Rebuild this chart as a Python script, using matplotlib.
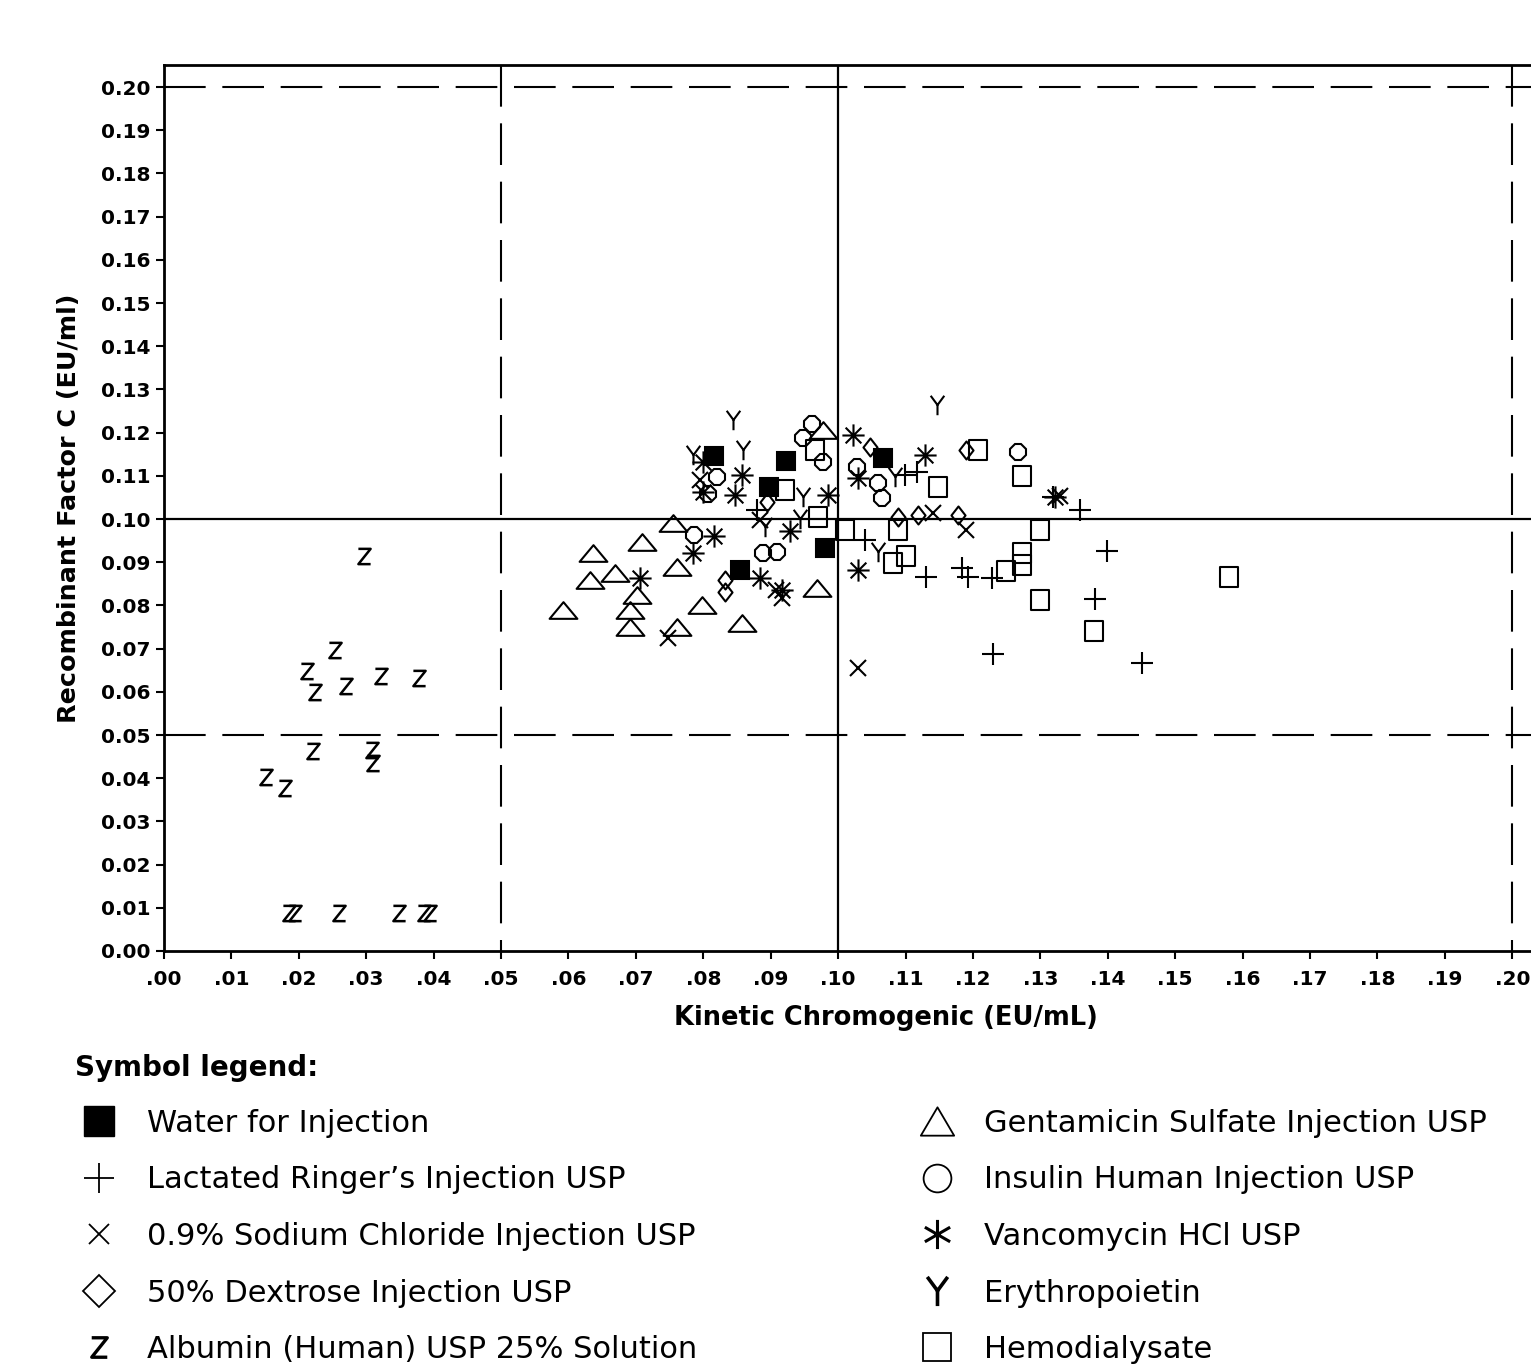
import numpy as np
import matplotlib
matplotlib.use("Agg")
import matplotlib.pyplot as plt
from matplotlib.path import Path
from matplotlib.lines import Line2D
from matplotlib.font_manager import FontProperties

# ---------------- data (EU/mL) ----------------
water_x = [0.0816, 0.0923, 0.0897, 0.0855, 0.0981, 0.1067]
water_y = [0.1146, 0.1134, 0.1074, 0.0882, 0.0933, 0.1141]

ringer_x = [0.1131, 0.1184, 0.1193, 0.1228, 0.1230, 0.1359, 0.1399, 0.1381, 0.1451,
            0.1099, 0.1117, 0.0880, 0.1318, 0.1040]
ringer_y = [0.0866, 0.0887, 0.0866, 0.0863, 0.0688, 0.1021, 0.0926, 0.0815, 0.0667,
            0.1102, 0.1109, 0.1021, 0.1051, 0.0951]

nacl_x = [0.1030, 0.0748, 0.1190, 0.0908, 0.0917, 0.0795, 0.0884, 0.1329, 0.1141]
nacl_y = [0.0655, 0.0725, 0.0975, 0.0836, 0.0817, 0.1090, 0.0998, 0.1053, 0.1014]

dextrose_x = [0.1089, 0.1119, 0.1178, 0.1189, 0.0832, 0.0832, 0.1047, 0.0895]
dextrose_y = [0.1005, 0.1009, 0.1009, 0.1160, 0.0859, 0.0831, 0.1167, 0.1039]

albumin_x = [0.0297, 0.0254, 0.0212, 0.0224, 0.0270, 0.0322, 0.0378, 0.0221, 0.0309,
             0.0310, 0.0151, 0.0180, 0.0185, 0.0194, 0.0260, 0.0349, 0.0386, 0.0395]
albumin_y = [0.0914, 0.0697, 0.0648, 0.0600, 0.0613, 0.0637, 0.0632, 0.0463, 0.0465,
             0.0435, 0.0403, 0.0377, 0.0088, 0.0088, 0.0088, 0.0088, 0.0088, 0.0088]

gentamicin_x = [0.0755, 0.0709, 0.0637, 0.0632, 0.0669, 0.0761, 0.0702, 0.0592, 0.0691,
                0.0691, 0.0798, 0.0858, 0.0761, 0.0969, 0.0978]
gentamicin_y = [0.0991, 0.0947, 0.0921, 0.0859, 0.0875, 0.0889, 0.0824, 0.0789, 0.0789,
                0.0750, 0.0801, 0.0759, 0.0750, 0.0840, 0.1206]

insulin_x = [0.1267, 0.0961, 0.0948, 0.0820, 0.0807, 0.0786, 0.0889, 0.0909, 0.1059,
             0.1065, 0.0978, 0.1028]
insulin_y = [0.1155, 0.1220, 0.1188, 0.1097, 0.1058, 0.0963, 0.0921, 0.0924, 0.1083,
             0.1049, 0.1132, 0.1120]

vanco_x = [0.1030, 0.1129, 0.1322, 0.0816, 0.0785, 0.0706, 0.0800, 0.0800, 0.0858,
           0.0847, 0.0929, 0.1022, 0.1030, 0.0985, 0.0884, 0.0917]
vanco_y = [0.0882, 0.1148, 0.1051, 0.0961, 0.0921, 0.0863, 0.1132, 0.1063, 0.1102,
           0.1056, 0.0972, 0.1194, 0.1095, 0.1056, 0.0863, 0.0836]

epo_x = [0.0844, 0.0859, 0.1147, 0.0892, 0.1059, 0.0948, 0.0785, 0.1085, 0.0944]
epo_y = [0.1229, 0.1160, 0.1264, 0.0981, 0.0924, 0.1051, 0.1148, 0.1097, 0.1000]

hemo_x = [0.1208, 0.1272, 0.1299, 0.1272, 0.1272, 0.1249, 0.1299, 0.1380, 0.1580,
          0.1089, 0.1082, 0.1101, 0.1148, 0.0966, 0.0970, 0.1010, 0.0921]
hemo_y = [0.1160, 0.1100, 0.0975, 0.0921, 0.0894, 0.0880, 0.0813, 0.0741, 0.0866,
          0.0975, 0.0898, 0.0914, 0.1074, 0.1160, 0.1005, 0.0975, 0.1067]

labels = ["Water for Injection", "Lactated Ringer\u2019s Injection USP",
          "0.9% Sodium Chloride Injection USP", "50% Dextrose Injection USP",
          "Albumin (Human) USP 25% Solution", "Gentamicin Sulfate Injection USP",
          "Insulin Human Injection USP", "Vancomycin HCl USP", "Erythropoietin",
          "Hemodialysate"]

y_ticks = [i / 100 for i in range(21)]
y_ticklabels = ["%.2f" % v for v in y_ticks]
x_ticks = [i / 100 for i in range(21)]
x_ticklabels = [(".%02d" % i) for i in range(21)]

# ---------------- marker shapes ----------------
M, L, C = Path.MOVETO, Path.LINETO, Path.CLOSEPOLY
tri = Path([(-1, -0.6), (1, -0.6), (0, 0.6), (-1, -0.6)], [M, L, L, C])
rect = Path([(-0.85, -1), (0.85, -1), (0.85, 1), (-0.85, 1), (-0.85, -1)], [M, L, L, L, C])
diam = Path([(-0.78, 0), (0, 1), (0.78, 0), (0, -1), (-0.78, 0)], [M, L, L, L, C])
ang = np.deg2rad([0, 45, 90, 135])
star8 = Path([p for a in ang for p in ((np.cos(a), np.sin(a)), (-np.cos(a), -np.sin(a)))],
             [M, L] * 4)
ang6 = np.deg2rad([90, 30, 150])
star6 = Path([p for a in ang6 for p in ((np.cos(a), np.sin(a)), (-np.cos(a), -np.sin(a)))],
             [M, L] * 3)
ypath = Path([(0, 0.05), (-0.7, 1), (0, 0.05), (0.7, 1), (0, 0.05), (0, -1)], [M, L, M, L, M, L])
zpath = Path([(-0.8, 1), (0.8, 1), (-0.8, -1), (0.8, -1)], [M, L, L, L])

# ---------------- figure ----------------
W, H = 1531, 1371
fig = plt.figure(figsize=(W / 100, H / 100), dpi=100)
# the plot frame continues past the right edge of the picture (cropped figure)
ax = fig.add_axes([164 / W, 1 - 951 / H, (1608 - 164) / W, (951 - 65) / H])

x0, x1 = 0.0, 0.2142
ax.set_xlim(x0, x1)
ax.set_ylim(0.0, 0.2051)

dash = dict(color="black", lw=1.5, dashes=(20, 8))
ax.plot([x0, x1], [0.20, 0.20], **dash, zorder=1)
ax.plot([x0, x1], [0.05, 0.05], **dash, zorder=1)
ax.plot([0.05, 0.05], [0.2051, 0.0], **dash, zorder=1)
ax.plot([0.20, 0.20], [0.2051, 0.0], **dash, zorder=1)
ax.axhline(0.10, color="black", lw=1.6, zorder=1)
ax.axvline(0.10, color="black", lw=1.6, zorder=1)

mew = 1.5
common = dict(linestyle="none", mec="black", mew=mew, zorder=3)
ax.plot(water_x, water_y, marker="s", ms=13, mfc="black", **common)
ax.plot(ringer_x, ringer_y, marker="+", ms=16, mfc="none", **common)
ax.plot(nacl_x, nacl_y, marker="x", ms=12, mfc="none", **common)
ax.plot(dextrose_x, dextrose_y, marker=diam, ms=13, mfc="none", **common)
ax.plot(albumin_x, albumin_y, marker=zpath, ms=11, mfc="none", linestyle="none",
        mec="black", mew=1.8, zorder=3)
ax.plot(gentamicin_x, gentamicin_y, marker=tri, ms=20, mfc="none", **common)
ax.plot(insulin_x, insulin_y, marker="8", ms=12.5, mfc="none", **common)
ax.plot(vanco_x, vanco_y, marker=star8, ms=16, mfc="none", **common)
ax.plot(epo_x, epo_y, marker=ypath, ms=14, mfc="none", **common)
ax.plot(hemo_x, hemo_y, marker=rect, ms=14.5, mfc="none", **common)

tickfont = dict(family="DejaVu Sans", weight="bold", size=14.5)
ax.set_yticks(y_ticks)
ax.set_yticklabels(y_ticklabels, **tickfont)
ax.set_xticks(x_ticks)
ax.set_xticklabels(x_ticklabels, **tickfont)
ax.tick_params(axis="both", direction="out", length=6, width=1.5, color="black")
ax.tick_params(axis="x", pad=8)
ax.tick_params(axis="y", pad=4)
for s in ("left", "bottom", "top"):
    ax.spines[s].set_linewidth(2)
ax.spines["right"].set_visible(False)

ax.set_xlabel("Kinetic Chromogenic (EU/mL)", family="DejaVu Sans", weight="bold",
              size=18.5, labelpad=11)
ax.set_ylabel("Recombinant Factor C (EU/ml)", family="DejaVu Sans", weight="bold",
              size=18.3, labelpad=14)

# ---------------- symbol legend ----------------
legfam = ["DejaVu Sans"]
lw_leg = 1.3
handles = [
    Line2D([], [], ls="none", marker="s", ms=21, mfc="black", mec="black"),
    Line2D([], [], ls="none", marker="+", ms=22, mec="black", mew=lw_leg),
    Line2D([], [], ls="none", marker="x", ms=14, mec="black", mew=lw_leg),
    Line2D([], [], ls="none", marker="D", ms=16, mfc="none", mec="black", mew=lw_leg),
    Line2D([], [], ls="none", marker=zpath, ms=14, mfc="none", mec="black", mew=2.4),
    Line2D([], [], ls="none", marker=Path([(-1, -0.85), (1, -0.85), (0, 0.85), (-1, -0.85)], [M, L, L, C]),
           ms=24, mfc="none", mec="black", mew=lw_leg),
    Line2D([], [], ls="none", marker="o", ms=20, mfc="none", mec="black", mew=lw_leg),
    Line2D([], [], ls="none", marker=star6, ms=21, mfc="none", mec="black", mew=2.2),
    Line2D([], [], ls="none", marker=ypath, ms=21, mfc="none", mec="black", mew=2.6),
    Line2D([], [], ls="none", marker="s", ms=20, mfc="none", mec="black", mew=lw_leg),
]
leg = fig.legend(handles, labels, ncol=2, loc="upper left",
                 bbox_to_anchor=(84 / W, 1 - 1109 / H), frameon=False,
                 prop=FontProperties(family=legfam, size=22),
                 handlelength=1.0, handletextpad=1.05, labelspacing=0.9,
                 columnspacing=7.35, borderpad=0, borderaxespad=0)
fig.text(75 / W, 1 - 1068 / H, "Symbol legend:", family=legfam, weight="bold",
         size=20, va="center", ha="left")

fig.savefig("out.png", dpi=100)
